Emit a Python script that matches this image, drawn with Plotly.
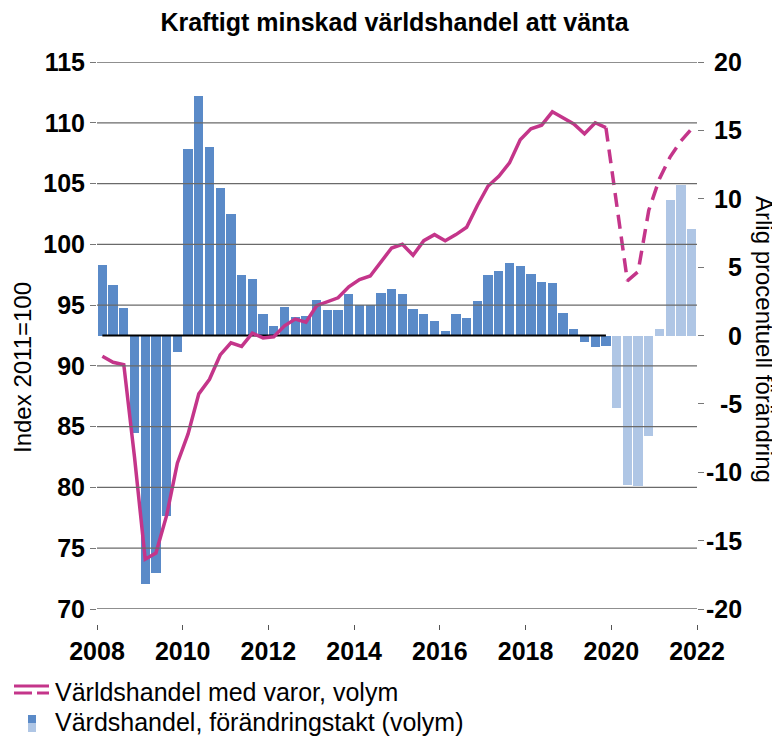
import plotly.graph_objects as go

# ---------------- data ----------------
years = list(range(2008, 2022))
quarters = [f"{y}Q{q}" for y in years for q in range(1, 5)]

# Annual percentage change (right axis), actual quarters 2008Q1-2019Q4
change_actual = [5.15, 3.71, 1.99, -7.16, -18.2, -17.4, -13.2, -1.23,
                 13.67, 17.5, 13.8, 10.8, 8.9, 4.4, 4.15, 1.6,
                 0.7, 2.07, 1.33, 1.41, 2.56, 1.86, 1.88, 3.0,
                 2.25, 2.25, 3.14, 3.4, 3.06, 1.93, 1.54, 1.05,
                 0.31, 1.6, 1.25, 2.5, 4.42, 4.7, 5.3, 5.07,
                 4.47, 3.92, 3.82, 1.67, 0.5, -0.5, -0.84, -0.76]
# Forecast quarters 2020Q1-2021Q4
change_forecast = [-5.31, -10.93, -11.03, -7.32, 0.47, 9.9, 11.0, 7.82]

# World trade volume index 2011=100 (left axis)
index_actual = [90.8, 90.3, 90.1, 82.5, 74.1, 74.6, 77.7, 82.0,
                84.4, 87.7, 88.9, 90.9, 91.9, 91.6, 92.7, 92.3,
                92.4, 93.3, 93.85, 93.6, 94.95, 95.25, 95.6, 96.5,
                97.1, 97.4, 98.6, 99.7, 100.0, 99.1, 100.3, 100.8,
                100.3, 100.8, 101.4, 103.2, 104.8, 105.6, 106.7, 108.6,
                109.5, 109.8, 110.9, 110.4, 109.9, 109.1, 110.0, 109.6]
index_forecast = [103.5, 97.0, 97.75, 102.8, 105.4, 107.2, 108.5, 109.5]

left_ticks = [70, 75, 80, 85, 90, 95, 100, 105, 110, 115]
right_ticks = [-20, -15, -10, -5, 0, 5, 10, 15, 20]
x_ticks = [2008, 2010, 2012, 2014, 2016, 2018, 2020, 2022]

title_text = "Kraftigt minskad världshandel att vänta"
left_title = "Index 2011=100"
right_title = "Årlig procentuell förändring"
legend_line = "Världshandel med varor, volym"
legend_bar = "Värdshandel, förändringstakt (volym)"

# ---------------- helpers ----------------
def qpos(label):
    y, q = label.split("Q")
    return int(y) + (int(q) - 0.5) / 4.0

xq = [qpos(q) for q in quarters]
n_act = len(change_actual)
x_act = xq[:n_act]
x_fc = xq[n_act:]

FONT = "Liberation Sans, Arial, sans-serif"
DARK = "#5a8ac8"
LIGHT = "#afc6e5"
PINK = "#c4358a"
GRID = "#6a6a6a"

OFF = 8  # page body margin
W, H = 780 - OFF, 738 - OFF
L, T = 97 - OFF, 62 - OFF
R = W - (697 - OFF)
B = H - (624 - OFF)
PW, PH = W - L - R, H - T - B


def px(p):
    return (p - OFF - L) / PW


def py(p):
    return (H - B - (p - OFF)) / PH


fig = go.Figure()

fig.add_trace(go.Bar(x=x_act, y=change_actual, marker=dict(color=DARK, line=dict(width=0)),
                     width=0.218, yaxis="y", showlegend=False))
fig.add_trace(go.Bar(x=x_fc, y=change_forecast, marker=dict(color=LIGHT, line=dict(width=0)),
                     width=0.218, yaxis="y", showlegend=False))
fig.add_trace(go.Scatter(x=x_act, y=[0] * n_act, mode="lines",
                         line=dict(color="black", width=2), yaxis="y", showlegend=False))
fig.add_trace(go.Scatter(x=x_act, y=index_actual, mode="lines",
                         line=dict(color=PINK, width=3.5), yaxis="y2", showlegend=False))
fig.add_trace(go.Scatter(x=[x_act[-1]] + x_fc, y=[index_actual[-1]] + index_forecast, mode="lines",
                         line=dict(color=PINK, width=3.5, dash="14px,8px"), yaxis="y2",
                         showlegend=False))

shapes = []
for v in left_ticks:
    shapes.append(dict(type="line", xref="paper", yref="y2", x0=0, x1=1, y0=v, y1=v,
                       line=dict(color=GRID, width=1.3), layer="above"))

# custom legend symbols
shapes += [
    dict(type="line", xref="paper", yref="paper", x0=px(14), x1=px(49), y0=py(686), y1=py(686),
         line=dict(color=PINK, width=3)),
    dict(type="line", xref="paper", yref="paper", x0=px(14), x1=px(32), y0=py(693), y1=py(693),
         line=dict(color=PINK, width=3)),
    dict(type="line", xref="paper", yref="paper", x0=px(37), x1=px(49), y0=py(693), y1=py(693),
         line=dict(color=PINK, width=3)),
    dict(type="rect", xref="paper", yref="paper", x0=px(28), x1=px(36), y0=py(715), y1=py(723),
         fillcolor=DARK, line=dict(width=0)),
    dict(type="rect", xref="paper", yref="paper", x0=px(28), x1=px(36), y0=py(723), y1=py(732),
         fillcolor=LIGHT, line=dict(width=0)),
]

annotations = []
for v in right_ticks:
    annotations.append(dict(x=px(744), y=v, xref="paper", yref="y", text=str(v),
                            showarrow=False, xanchor="right", yanchor="middle",
                            font=dict(family=FONT, size=25, color="black", weight="bold")))
annotations += [
    dict(x=px(22), y=py(368), xref="paper", yref="paper", text=left_title, textangle=-90,
         showarrow=False, xanchor="center", yanchor="middle",
         font=dict(family=FONT, size=24, color="black")),
    dict(x=px(765), y=py(339), xref="paper", yref="paper", text=right_title, textangle=90,
         showarrow=False, xanchor="center", yanchor="middle",
         font=dict(family=FONT, size=24, color="black")),
    dict(x=px(53), y=py(692), xref="paper", yref="paper", text=legend_line,
         showarrow=False, xanchor="left", yanchor="middle",
         font=dict(family=FONT, size=25, color="black")),
    dict(x=px(53), y=py(722), xref="paper", yref="paper", text=legend_bar,
         showarrow=False, xanchor="left", yanchor="middle",
         font=dict(family=FONT, size=25, color="black")),
]

fig.update_layout(
    width=W, height=H,
    margin=dict(l=L, r=R, t=T, b=B),
    paper_bgcolor="white", plot_bgcolor="white",
    title=dict(text=title_text, x=(394.5 - OFF) / W, xanchor="center",
               y=1 - (22 - OFF) / H, yanchor="middle",
               xref="container", yref="container",
               font=dict(family=FONT, size=25, color="black", weight="bold")),
    bargap=0, barmode="overlay",
    showlegend=False,
    xaxis=dict(range=[2008, 2022], tickvals=x_ticks, ticktext=[str(t) for t in x_ticks],
               anchor="free", position=0, showgrid=False, zeroline=False, showline=False,
               ticks="outside", ticklen=5, tickcolor="#555", tickwidth=1,
               tickfont=dict(family=FONT, size=25, color="black", weight="bold")),
    yaxis=dict(range=[-20, 20], side="right", domain=[15 / PH, 1], tickvals=right_ticks,
               showticklabels=False, showgrid=False, zeroline=False, showline=False,
               ticks="outside", ticklen=6, tickcolor="#777", tickwidth=1),
    yaxis2=dict(range=[70, 115], side="left", overlaying="y", tickvals=left_ticks,
                ticktext=[str(t) for t in left_ticks], showgrid=False, zeroline=False,
                showline=False, ticks="outside", ticklen=6, tickcolor="#777", tickwidth=1,
                tickfont=dict(family=FONT, size=25, color="black", weight="bold")),
    shapes=shapes,
    annotations=annotations,
)

fig.write_html("out.html")
